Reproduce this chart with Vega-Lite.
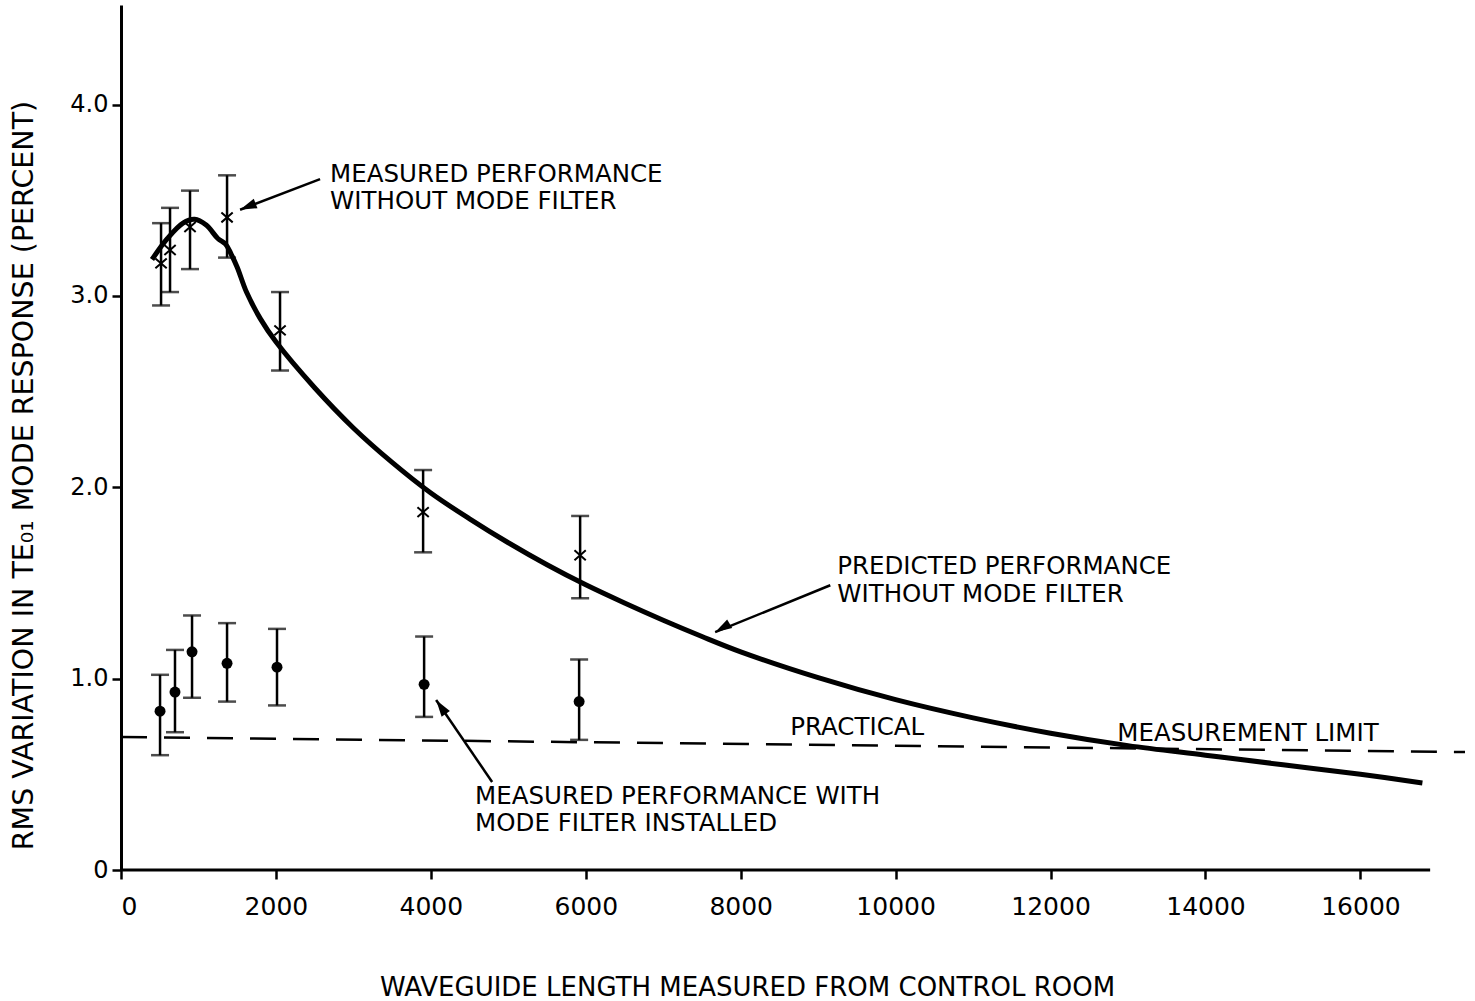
{
  "$schema": "https://vega.github.io/schema/vega-lite/v6.json",
  "width": 1344,
  "height": 865,
  "autosize": {"type": "none"},
  "padding": {"left": 121, "top": 5, "right": 10, "bottom": 131},
  "background": "white",
  "config": {
    "font": "DejaVu Sans",
    "view": {"stroke": null},
    "axis": {"grid": false, "domainColor": "black", "tickColor": "black", "labelColor": "black", "titleColor": "black", "labelFont": "DejaVu Sans", "titleFont": "DejaVu Sans", "titleFontWeight": "normal"}
  },
  "datasets": {
    "curve": [
      {"length": 400, "rms": 3.19}, {"length": 600, "rms": 3.30}, {"length": 800, "rms": 3.38},
      {"length": 950, "rms": 3.40}, {"length": 1100, "rms": 3.37}, {"length": 1250, "rms": 3.30},
      {"length": 1350, "rms": 3.27}, {"length": 1420, "rms": 3.22}, {"length": 1500, "rms": 3.15},
      {"length": 1620, "rms": 3.02}, {"length": 1800, "rms": 2.88}, {"length": 2000, "rms": 2.76},
      {"length": 2500, "rms": 2.52}, {"length": 3000, "rms": 2.31}, {"length": 3500, "rms": 2.13},
      {"length": 4000, "rms": 1.97}, {"length": 4500, "rms": 1.835}, {"length": 5000, "rms": 1.71},
      {"length": 5500, "rms": 1.595}, {"length": 6000, "rms": 1.49}, {"length": 6500, "rms": 1.395},
      {"length": 7000, "rms": 1.305}, {"length": 7500, "rms": 1.22}, {"length": 8000, "rms": 1.14},
      {"length": 9000, "rms": 1.005}, {"length": 10000, "rms": 0.89}, {"length": 11000, "rms": 0.795},
      {"length": 12000, "rms": 0.715}, {"length": 13000, "rms": 0.65}, {"length": 14000, "rms": 0.60},
      {"length": 15000, "rms": 0.55}, {"length": 16000, "rms": 0.50}, {"length": 16800, "rms": 0.455}
    ],
    "noFilter": [
      {"length": 517, "rms": 3.17, "lo": 2.95, "hi": 3.38},
      {"length": 633, "rms": 3.24, "lo": 3.02, "hi": 3.46},
      {"length": 891, "rms": 3.36, "lo": 3.14, "hi": 3.55},
      {"length": 1369, "rms": 3.41, "lo": 3.20, "hi": 3.63},
      {"length": 2053, "rms": 2.82, "lo": 2.61, "hi": 3.02},
      {"length": 3900, "rms": 1.87, "lo": 1.66, "hi": 2.09},
      {"length": 5927, "rms": 1.645, "lo": 1.42, "hi": 1.85}
    ],
    "withFilter": [
      {"length": 504, "rms": 0.83, "lo": 0.60, "hi": 1.02},
      {"length": 697, "rms": 0.93, "lo": 0.72, "hi": 1.15},
      {"length": 917, "rms": 1.14, "lo": 0.90, "hi": 1.33},
      {"length": 1369, "rms": 1.08, "lo": 0.88, "hi": 1.29},
      {"length": 2014, "rms": 1.06, "lo": 0.86, "hi": 1.26},
      {"length": 3913, "rms": 0.97, "lo": 0.80, "hi": 1.22},
      {"length": 5914, "rms": 0.88, "lo": 0.68, "hi": 1.10}
    ],
    "limit": [
      {"length": 0, "rms": 0.695},
      {"length": 17350, "rms": 0.616}
    ],
    "xaxis": [{"x0": 0, "x1": 16900, "y": 0}],
    "labels": [
      {"length": 2699, "rms": 3.597, "text": "MEASURED PERFORMANCE"},
      {"length": 2699, "rms": 3.452, "text": "WITHOUT MODE FILTER"},
      {"length": 9246, "rms": 1.545, "text": "PREDICTED PERFORMANCE"},
      {"length": 9246, "rms": 1.400, "text": "WITHOUT MODE FILTER"},
      {"length": 8639, "rms": 0.705, "text": "PRACTICAL"},
      {"length": 12862, "rms": 0.674, "text": "MEASUREMENT LIMIT"},
      {"length": 4571, "rms": 0.344, "text": "MEASURED PERFORMANCE WITH"},
      {"length": 4571, "rms": 0.204, "text": "MODE FILTER INSTALLED"}
    ],
    "arrow1": [{"x0": 2570, "y0": 3.61, "x1": 1537, "y1": 3.45}],
    "arrow2": [{"x0": 9156, "y0": 1.488, "x1": 7670, "y1": 1.243}],
    "arrow3": [{"x0": 4791, "y0": 0.46, "x1": 4068, "y1": 0.888}]
  },
  "layer": [
    {
      "data": {"name": "curve"},
      "mark": {"type": "line", "color": "black", "strokeWidth": 5, "interpolate": "catmull-rom"},
      "encoding": {
        "x": {
          "field": "length", "type": "quantitative",
          "scale": {"domain": [0, 17350], "nice": false, "zero": false},
          "axis": {
            "values": [0, 2000, 4000, 6000, 8000, 10000, 12000, 14000, 16000],
            "format": "d", "domain": false, "tickSize": 9, "tickWidth": 2.5,
            "labelFontSize": 25, "labelPadding": 15,
            "title": "WAVEGUIDE  LENGTH MEASURED FROM CONTROL ROOM",
            "titleFontSize": 26, "titleX": 626, "titleY": 125, "titleBaseline": "alphabetic", "titleAlign": "center"
          }
        },
        "y": {
          "field": "rms", "type": "quantitative",
          "scale": {"domain": [0, 4.52], "nice": false, "zero": false},
          "axis": {
            "values": [0, 1, 2, 3, 4],
            "labelExpr": "datum.value == 0 ? '0' : format(datum.value, '.1f')",
            "domainWidth": 3, "tickSize": 9, "tickWidth": 2.5,
            "labelFontSize": 24, "labelPadding": 4,
            "title": "RMS VARIATION IN TE₀₁ MODE RESPONSE (PERCENT)",
            "titleFontSize": 28.5, "titleX": -89, "titleY": 470, "titleAngle": -90,
            "titleAlign": "center", "titleBaseline": "alphabetic"
          }
        }
      }
    },
    {
      "data": {"name": "xaxis"},
      "mark": {"type": "rule", "color": "black", "strokeWidth": 3},
      "encoding": {
        "x": {"field": "x0", "type": "quantitative"},
        "x2": {"field": "x1"},
        "y": {"field": "y", "type": "quantitative"}
      }
    },
    {
      "data": {"name": "limit"},
      "mark": {"type": "line", "color": "black", "strokeWidth": 2.5, "strokeDash": [26, 17]},
      "encoding": {
        "x": {"field": "length", "type": "quantitative"},
        "y": {"field": "rms", "type": "quantitative"}
      }
    },
    {
      "data": {"name": "noFilter"},
      "mark": {"type": "rule", "color": "black", "strokeWidth": 2.5},
      "encoding": {
        "x": {"field": "length", "type": "quantitative"},
        "y": {"field": "lo", "type": "quantitative"},
        "y2": {"field": "hi"}
      }
    },
    {
      "data": {"name": "noFilter"},
      "mark": {"type": "tick", "color": "black", "orient": "horizontal", "size": 18, "thickness": 2.5},
      "encoding": {
        "x": {"field": "length", "type": "quantitative"},
        "y": {"field": "lo", "type": "quantitative"}
      }
    },
    {
      "data": {"name": "noFilter"},
      "mark": {"type": "tick", "color": "black", "orient": "horizontal", "size": 18, "thickness": 2.5},
      "encoding": {
        "x": {"field": "length", "type": "quantitative"},
        "y": {"field": "hi", "type": "quantitative"}
      }
    },
    {
      "data": {"name": "noFilter"},
      "mark": {"type": "point", "shape": "M-0.8,-0.7L0.8,0.7M-0.8,0.7L0.8,-0.7", "filled": false, "color": "black", "strokeWidth": 2, "size": 200, "opacity": 1},
      "encoding": {
        "x": {"field": "length", "type": "quantitative"},
        "y": {"field": "rms", "type": "quantitative"}
      }
    },
    {
      "data": {"name": "withFilter"},
      "mark": {"type": "rule", "color": "black", "strokeWidth": 2.5},
      "encoding": {
        "x": {"field": "length", "type": "quantitative"},
        "y": {"field": "lo", "type": "quantitative"},
        "y2": {"field": "hi"}
      }
    },
    {
      "data": {"name": "withFilter"},
      "mark": {"type": "tick", "color": "black", "orient": "horizontal", "size": 18, "thickness": 2.5},
      "encoding": {
        "x": {"field": "length", "type": "quantitative"},
        "y": {"field": "lo", "type": "quantitative"}
      }
    },
    {
      "data": {"name": "withFilter"},
      "mark": {"type": "tick", "color": "black", "orient": "horizontal", "size": 18, "thickness": 2.5},
      "encoding": {
        "x": {"field": "length", "type": "quantitative"},
        "y": {"field": "hi", "type": "quantitative"}
      }
    },
    {
      "data": {"name": "withFilter"},
      "mark": {"type": "circle", "color": "black", "size": 120, "opacity": 1},
      "encoding": {
        "x": {"field": "length", "type": "quantitative"},
        "y": {"field": "rms", "type": "quantitative"}
      }
    },
    {
      "data": {"name": "labels"},
      "mark": {"type": "text", "color": "black", "fontSize": 24.5, "align": "left", "baseline": "alphabetic"},
      "encoding": {
        "x": {"field": "length", "type": "quantitative"},
        "y": {"field": "rms", "type": "quantitative"},
        "text": {"field": "text"}
      }
    },
    {
      "data": {"name": "arrow1"},
      "mark": {"type": "rule", "color": "black", "strokeWidth": 2.5},
      "encoding": {
        "x": {"field": "x0", "type": "quantitative"}, "y": {"field": "y0", "type": "quantitative"},
        "x2": {"field": "x1"}, "y2": {"field": "y1"}
      }
    },
    {
      "data": {"name": "arrow1"},
      "mark": {"type": "point", "shape": "M0,0L0.45,1.5L-0.45,1.5Z", "filled": true, "color": "black", "size": 500, "angle": 248, "opacity": 1},
      "encoding": {"x": {"field": "x1", "type": "quantitative"}, "y": {"field": "y1", "type": "quantitative"}}
    },
    {
      "data": {"name": "arrow2"},
      "mark": {"type": "rule", "color": "black", "strokeWidth": 2.5},
      "encoding": {
        "x": {"field": "x0", "type": "quantitative"}, "y": {"field": "y0", "type": "quantitative"},
        "x2": {"field": "x1"}, "y2": {"field": "y1"}
      }
    },
    {
      "data": {"name": "arrow2"},
      "mark": {"type": "point", "shape": "M0,0L0.45,1.5L-0.45,1.5Z", "filled": true, "color": "black", "size": 500, "angle": 240, "opacity": 1},
      "encoding": {"x": {"field": "x1", "type": "quantitative"}, "y": {"field": "y1", "type": "quantitative"}}
    },
    {
      "data": {"name": "arrow3"},
      "mark": {"type": "rule", "color": "black", "strokeWidth": 2.5},
      "encoding": {
        "x": {"field": "x0", "type": "quantitative"}, "y": {"field": "y0", "type": "quantitative"},
        "x2": {"field": "x1"}, "y2": {"field": "y1"}
      }
    },
    {
      "data": {"name": "arrow3"},
      "mark": {"type": "point", "shape": "M0,0L0.45,1.5L-0.45,1.5Z", "filled": true, "color": "black", "size": 500, "angle": 325, "opacity": 1},
      "encoding": {"x": {"field": "x1", "type": "quantitative"}, "y": {"field": "y1", "type": "quantitative"}}
    }
  ]
}
